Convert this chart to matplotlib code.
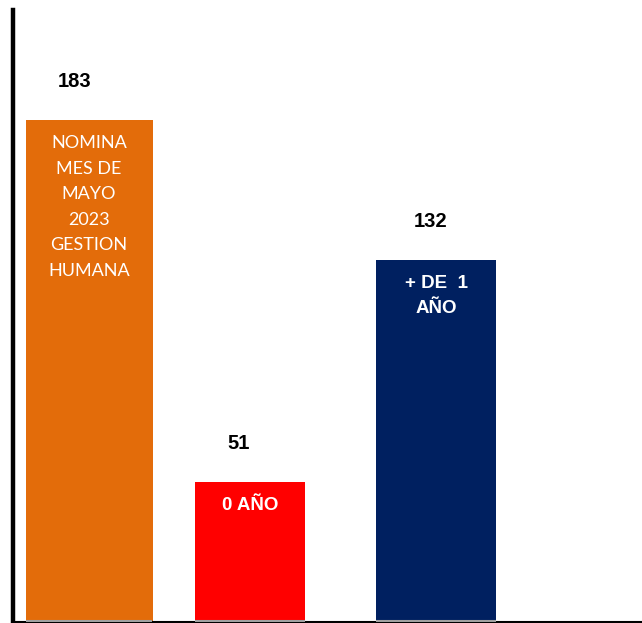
import matplotlib.pyplot as plt

# data
categories = ['NOMINA\nMES DE\nMAYO\n2023\nGESTION\nHUMANA', '0 AÑO', '+ DE  1\nAÑO']
values = [183, 51, 132]
colors = ['#E36C0A', '#FF0000', '#002060']
bold_inside = [False, True, True]

# layout (x positions / widths in axis pixel units)
x_pos = [76.5, 238, 424]
widths = [127, 110, 120]
label_shift = [-14, -12, -6]  # value labels sit a bit left of bar centre

fig = plt.figure(figsize=(6.42, 6.23), dpi=100)
ax = fig.add_axes([12.5 / 642, 1.5 / 623, 1 - 12.5 / 642, (621.5 - 10) / 623])

bars = ax.bar(x_pos, values, width=widths, color=colors, zorder=2)
ax.set_xlim(0, 629.5)
ax.set_ylim(0, 223)

px = 223 / 611.5  # data units per pixel
for b, v, lab, bold, dx in zip(bars, values, categories, bold_inside, label_shift):
    cx = b.get_x() + b.get_width() / 2
    top = b.get_height()
    # value label above bar
    ax.text(cx + dx, top + 38 * px, str(v), ha='center', va='center',
            fontsize=14.5, fontweight='bold', family='Liberation Sans', color='black')
    # label inside bar, one line at a time
    for i, line in enumerate(lab.split('\n')):
        ax.text(cx, top - (23.5 + i * 25.5) * px, line, ha='center', va='center', color='white',
                fontsize=13.5 if bold else 13, fontweight='bold' if bold else 'normal',
                family='Liberation Sans' if bold else 'Lato')
    # thin gray strip at the base
    ax.hlines(0.6 * px, b.get_x(), b.get_x() + b.get_width(), color='#A0A0A0', lw=1.5, zorder=3)

for s in ['top', 'right']:
    ax.spines[s].set_visible(False)
ax.spines['left'].set_linewidth(3.2)
ax.spines['left'].set_color('black')
ax.spines['bottom'].set_linewidth(1.5)
ax.spines['bottom'].set_color('black')
ax.set_xticks([])
ax.set_yticks([])

fig.savefig('out.png', dpi=100)
